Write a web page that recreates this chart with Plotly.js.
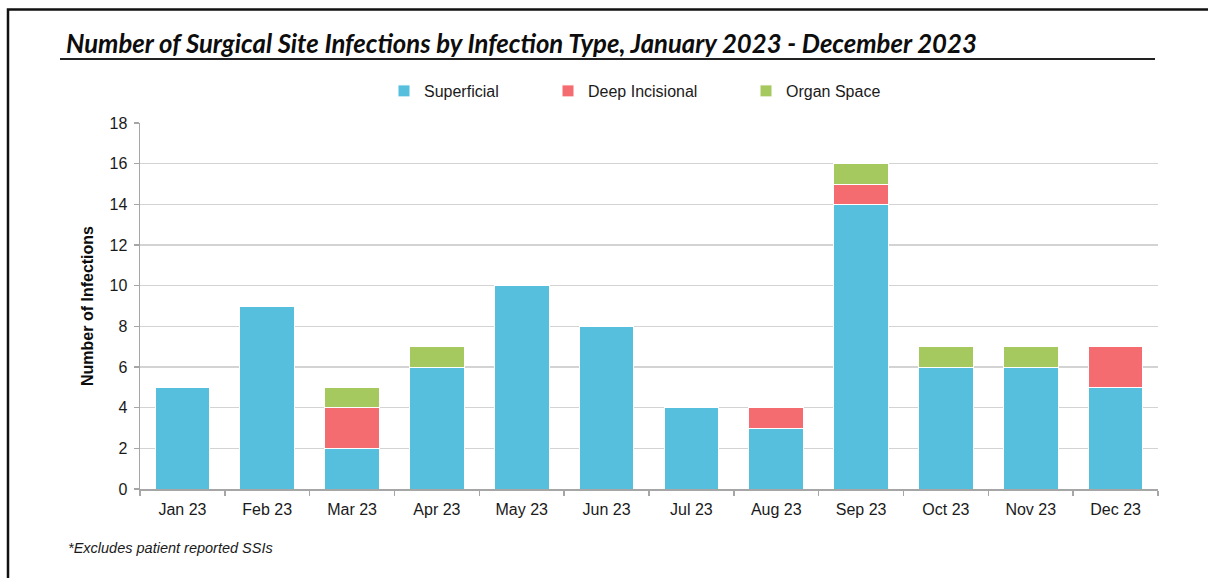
<!DOCTYPE html>
<html>
<head>
<meta charset="utf-8">
<script src="https://cdn.plot.ly/plotly-3.0.1.min.js"></script>
<style>
  html, body { margin: 0; padding: 0; background: #fff; }
  #chart { width: 1208px; height: 578px; }
</style>
</head>
<body>
<div id="chart"></div>
<script>
// Monthly surgical site infection counts, stacked by infection type
const months = ["Jan 23", "Feb 23", "Mar 23", "Apr 23", "May 23", "Jun 23",
                "Jul 23", "Aug 23", "Sep 23", "Oct 23", "Nov 23", "Dec 23"];
const superficial    = [5, 9, 2, 6, 10, 8, 4, 3, 14, 6, 6, 5];
const deepIncisional = [0, 0, 2, 0, 0, 0, 0, 1, 1, 0, 0, 2];
const organSpace     = [0, 0, 1, 1, 0, 0, 0, 0, 1, 1, 1, 0];
const yTicks = [0, 2, 4, 6, 8, 10, 12, 14, 16, 18];

const W = 1208, H = 578;
const M = { l: 140, r: 50, t: 123, b: 89 };
const PW = W - M.l - M.r, PH = H - M.t - M.b;
// pixel -> paper helpers for the frame, rule and legend placement
const px = v => (v - M.l) / PW;
const py = v => (H - M.b - v) / PH;

const font = "Arial, 'Liberation Sans', sans-serif";
const barLine = { color: "#ffffff", width: 1 };

function series(name, values, color, legendId) {
  return {
    type: "bar", name: name, x: months, y: values,
    marker: { color: color, line: barLine },
    width: 0.645, legend: legendId, showlegend: true, hoverinfo: "x+y+name"
  };
}

const data = [
  series("Superficial", superficial, "#56BFDE", "legend"),
  series("Deep Incisional", deepIncisional, "#F46C70", "legend2"),
  series("Organ Space", organSpace, "#A5C85F", "legend3")
];

function legendAt(xPix) {
  return {
    visible: true,
    x: px(xPix), y: py(91), xref: "paper", yref: "paper",
    xanchor: "left", yanchor: "middle", orientation: "h",
    bgcolor: "rgba(0,0,0,0)", borderwidth: 0,
    font: { family: font, size: 16, color: "#1a1a1a" },
    itemclick: false, itemdoubleclick: false
  };
}

const layout = {
  width: W, height: H,
  margin: M,
  showlegend: true,
  paper_bgcolor: "#ffffff", plot_bgcolor: "#ffffff",
  barmode: "stack",
  bargap: 0.355,
  font: { family: font, color: "#1a1a1a" },
  title: {
    text: "<b><i>Number of Surgical Site Infections by Infection Type, January 2023 - December 2023</i></b>",
    xref: "container", yref: "container",
    x: 66 / W, xanchor: "left",
    y: 1 - 44 / H, yanchor: "middle",
    font: { family: "Lato, 'Open Sans', sans-serif", size: 25.7, color: "#0d0d0d" }
  },
  legend: legendAt(384),
  legend2: legendAt(548),
  legend3: legendAt(746),
  xaxis: {
    type: "category",
    showgrid: false,
    showline: true, linecolor: "#a6a6a6", linewidth: 1.5,
    ticks: "outside", tickson: "boundaries", ticklen: 5, tickcolor: "#a6a6a6", tickwidth: 1.5,
    ticklabelstandoff: 5,
    tickfont: { family: font, size: 16, color: "#1a1a1a" },
    fixedrange: true
  },
  yaxis: {
    range: [0, 18],
    tickmode: "array", tickvals: yTicks, ticktext: yTicks.map(String),
    showgrid: true, gridcolor: "#d3d3d3", gridwidth: 1.5,
    showline: true, linecolor: "#a6a6a6", linewidth: 1.5,
    ticks: "outside", ticklen: 5, tickcolor: "#a6a6a6", tickwidth: 1.5,
    ticklabelstandoff: 3,
    tickfont: { family: font, size: 16, color: "#1a1a1a" },
    zeroline: false,
    title: {
      text: "<b>Number of Infections</b>",
      font: { family: font, size: 16, color: "#0d0d0d" },
      standoff: 12
    },
    fixedrange: true
  },
  shapes: [
    // outer frame
    { type: "rect", xref: "paper", yref: "paper",
      x0: px(8), x1: px(1240), y0: py(9.5), y1: py(620),
      line: { color: "#111111", width: 2.5 }, fillcolor: "rgba(0,0,0,0)", layer: "above" },
    // rule under the heading
    { type: "line", xref: "paper", yref: "paper",
      x0: px(60), x1: px(1155), y0: py(59), y1: py(59),
      line: { color: "#222222", width: 2 } }
  ],
  annotations: [
    { text: "<i>*Excludes patient reported SSIs</i>",
      xref: "paper", yref: "paper", x: px(66), y: py(548),
      xanchor: "left", yanchor: "middle", showarrow: false,
      font: { family: font, size: 14.5, color: "#1a1a1a" } }
  ]
};

Plotly.newPlot("chart", data, layout, { displayModeBar: false, staticPlot: true });
</script>
</body>
</html>
